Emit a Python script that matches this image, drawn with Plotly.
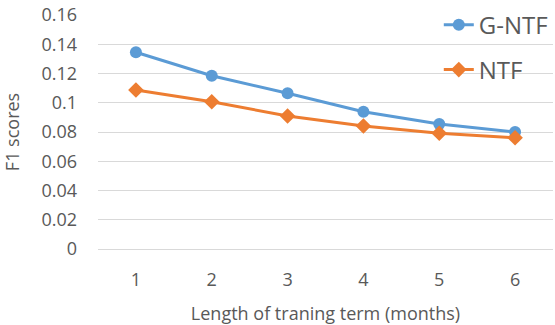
import plotly.graph_objects as go

months = [1, 2, 3, 4, 5, 6]
month_labels = ["1", "2", "3", "4", "5", "6"]
g_ntf = [0.1345, 0.1185, 0.1065, 0.0939, 0.0855, 0.0800]
ntf = [0.1087, 0.1007, 0.0909, 0.0841, 0.0791, 0.0761]
y_ticks = [0, 0.02, 0.04, 0.06, 0.08, 0.1, 0.12, 0.14, 0.16]
y_tick_labels = ["0", "0.02", "0.04", "0.06", "0.08", "0.1", "0.12", "0.14", "0.16"]

FONT = "Open Sans"
GRAY = "#595959"
BLUE = "#5B9BD5"
ORANGE = "#ED7D31"

fig = go.Figure()
fig.add_trace(go.Scatter(
    x=months, y=g_ntf, name="G-NTF", mode="lines+markers",
    line=dict(color=BLUE, width=3),
    marker=dict(symbol="circle", size=12, color=BLUE),
    legend="legend", showlegend=True,
))
fig.add_trace(go.Scatter(
    x=months, y=ntf, name="NTF", mode="lines+markers",
    line=dict(color=ORANGE, width=3),
    marker=dict(symbol="diamond", size=12, color=ORANGE),
    legend="legend2", showlegend=True,
))

leg_common = dict(xanchor="left", yanchor="middle", xref="paper", yref="paper",
                  font=dict(size=24, color=GRAY, family=FONT), visible=True,
                  bgcolor="rgba(0,0,0,0)", itemwidth=30)

fig.update_layout(
    width=555, height=325,
    showlegend=True,
    margin=dict(l=98, r=2, t=15, b=76, autoexpand=False),
    paper_bgcolor="white", plot_bgcolor="white",
    font=dict(family=FONT, color=GRAY, size=18),
    legend=dict(x=0.749, y=0.957, **leg_common),
    legend2=dict(x=0.749, y=0.765, **leg_common),
    xaxis=dict(
        range=[0.5, 6.5], tickmode="array", tickvals=months, ticktext=month_labels,
        showgrid=False, zeroline=False, showline=True, linecolor="#D9D9D9", linewidth=1,
        ticks="", ticklabelstandoff=14, automargin=False,
        tickfont=dict(size=18, color=GRAY, family=FONT),
        title=dict(text="Length of traning term (months)",
                   font=dict(size=18, color=GRAY, family=FONT), standoff=17),
    ),
    yaxis=dict(
        range=[0, 0.16], tickmode="array", tickvals=y_ticks, ticktext=y_tick_labels,
        showgrid=True, gridcolor="#D9D9D9", gridwidth=1, zeroline=False,
        ticks="", ticklabelstandoff=20, automargin=False,
        tickfont=dict(size=18, color=GRAY, family=FONT),
        title=dict(text="F1 scores", font=dict(size=18, color=GRAY, family=FONT), standoff=21),
    ),
)

fig.write_html("out.html", config={"displayModeBar": False},
               post_script="document.body.style.margin='0';document.body.style.overflow='hidden';")
